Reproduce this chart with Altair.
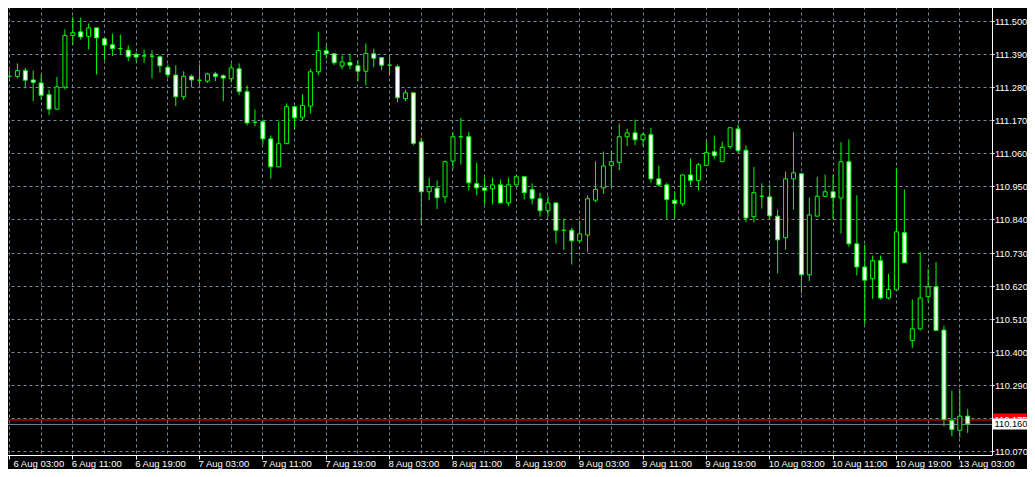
import altair as alt
import pandas as pd

# ---- data (H1 candles) ----
open_ = [111.316, 111.316, 111.335, 111.304, 111.294, 111.255, 111.207, 111.280, 111.452, 111.464,
         111.449, 111.477, 111.441, 111.421, 111.408, 111.403, 111.389, 111.384, 111.383, 111.381,
         111.346, 111.320, 111.248, 111.316, 111.303, 111.300, 111.324, 111.318, 111.308, 111.341,
         111.265, 111.163, 111.165, 111.108, 111.015, 111.092, 111.215, 111.180, 111.217, 111.331,
         111.401, 111.391, 111.350, 111.362, 111.351, 111.333, 111.391, 111.378, 111.353, 111.348,
         111.242, 111.261, 111.098, 110.932, 110.944, 110.915, 111.034, 111.115, 111.115, 110.959,
         110.945, 110.942, 110.955, 110.895, 110.955, 110.982, 110.939, 110.909, 110.869, 110.895,
         110.804, 110.804, 110.769, 110.788, 110.904, 110.945, 111.020, 111.030, 111.115, 111.128,
         111.105, 111.122, 110.975, 110.955, 110.904, 110.892, 110.988, 110.970, 111.020, 111.065,
         111.032, 111.082, 111.141, 111.070, 110.849, 110.917, 110.915, 110.851, 110.779, 110.975,
         110.992, 110.656, 110.851, 110.917, 110.932, 110.911, 111.032, 110.759, 110.682, 110.643,
         110.703, 110.579, 110.606, 110.796, 110.437, 110.476, 110.583, 110.616, 110.472, 110.172,
         110.139, 110.186]
high = [111.336, 111.359, 111.344, 111.335, 111.322, 111.272, 111.314, 111.472, 111.514, 111.511,
        111.492, 111.478, 111.441, 111.458, 111.455, 111.419, 111.396, 111.405, 111.402, 111.385,
        111.355, 111.353, 111.333, 111.322, 111.355, 111.328, 111.331, 111.322, 111.358, 111.359,
        111.286, 111.206, 111.172, 111.119, 111.166, 111.226, 111.216, 111.256, 111.341, 111.465,
        111.419, 111.392, 111.385, 111.391, 111.370, 111.425, 111.408, 111.379, 111.385, 111.355,
        111.272, 111.262, 111.112, 110.979, 110.970, 111.036, 111.131, 111.178, 111.131, 111.028,
        110.979, 110.979, 110.973, 110.979, 110.989, 110.983, 110.960, 110.929, 110.917, 110.896,
        110.843, 110.812, 110.836, 110.920, 111.033, 111.066, 111.066, 111.159, 111.142, 111.172,
        111.130, 111.145, 111.019, 110.962, 110.934, 110.989, 111.042, 111.028, 111.100, 111.119,
        111.099, 111.146, 111.156, 111.086, 111.015, 110.960, 110.956, 110.873, 110.999, 111.130,
        110.995, 110.913, 110.982, 110.989, 110.989, 111.097, 111.106, 110.920, 110.757, 110.720,
        110.720, 110.659, 111.012, 110.940, 110.574, 110.732, 110.676, 110.699, 110.487, 110.271,
        110.277, 110.210]
low = [111.300, 111.309, 111.276, 111.233, 111.237, 111.187, 111.206, 111.272, 111.422, 111.438,
       111.405, 111.322, 111.370, 111.383, 111.389, 111.366, 111.366, 111.361, 111.309, 111.328,
       111.311, 111.217, 111.237, 111.281, 111.289, 111.294, 111.300, 111.233, 111.296, 111.253,
       111.153, 111.150, 111.089, 110.976, 111.014, 111.091, 111.139, 111.170, 111.192, 111.319,
       111.374, 111.353, 111.339, 111.339, 111.300, 111.286, 111.346, 111.336, 111.319, 111.230,
       111.233, 111.087, 110.821, 110.904, 110.875, 110.895, 111.008, 111.023, 110.937, 110.920,
       110.890, 110.890, 110.894, 110.884, 110.953, 110.906, 110.890, 110.849, 110.849, 110.760,
       110.738, 110.690, 110.764, 110.731, 110.897, 110.926, 110.949, 111.004, 111.084, 111.087,
       111.084, 110.962, 110.949, 110.842, 110.845, 110.884, 110.954, 110.937, 111.017, 111.042,
       111.031, 111.075, 111.062, 110.831, 110.831, 110.876, 110.840, 110.661, 110.740, 110.873,
       110.594, 110.635, 110.850, 110.916, 110.840, 110.793, 110.749, 110.654, 110.491, 110.576,
       110.574, 110.574, 110.605, 110.695, 110.413, 110.471, 110.565, 110.470, 110.152, 110.119,
       110.114, 110.130]
close = [111.316, 111.335, 111.303, 111.296, 111.253, 111.207, 111.281, 111.452, 111.461, 111.447,
         111.477, 111.444, 111.420, 111.408, 111.408, 111.381, 111.380, 111.384, 111.383, 111.351,
         111.321, 111.248, 111.316, 111.304, 111.303, 111.324, 111.316, 111.310, 111.344, 111.265,
         111.161, 111.163, 111.108, 111.015, 111.092, 111.215, 111.178, 111.219, 111.331, 111.402,
         111.391, 111.361, 111.364, 111.353, 111.333, 111.392, 111.376, 111.353, 111.353, 111.245,
         111.261, 111.093, 110.932, 110.949, 110.912, 111.032, 111.115, 111.115, 110.962, 110.945,
         110.937, 110.955, 110.895, 110.955, 110.982, 110.929, 110.909, 110.869, 110.895, 110.804,
         110.804, 110.769, 110.792, 110.909, 110.940, 111.018, 111.032, 111.115, 111.128, 111.105,
         111.122, 110.975, 110.955, 110.906, 110.893, 110.988, 110.970, 111.022, 111.062, 111.052,
         111.080, 111.145, 111.069, 110.845, 110.929, 110.917, 110.852, 110.772, 110.975, 110.995,
         110.656, 110.855, 110.917, 110.932, 110.912, 111.032, 110.759, 110.682, 110.638, 110.703,
         110.579, 110.607, 110.799, 110.696, 110.476, 110.579, 110.616, 110.471, 110.175, 110.141,
         110.186, 110.160]

x_labels = ["6 Aug 03:00", "6 Aug 11:00", "6 Aug 19:00", "7 Aug 03:00", "7 Aug 11:00",
            "7 Aug 19:00", "8 Aug 03:00", "8 Aug 11:00", "8 Aug 19:00", "9 Aug 03:00",
            "9 Aug 11:00", "9 Aug 19:00", "10 Aug 03:00", "10 Aug 11:00", "10 Aug 19:00",
            "13 Aug 03:00"]
y_ticks = [110.07, 110.18, 110.29, 110.40, 110.51, 110.62, 110.73, 110.84, 110.95,
           111.06, 111.17, 111.28, 111.39, 111.50]
ask_price = [110.175]
bid_price = [110.160]

# ---- styling ----
LIME = "#00FF00"
GRID = "#778899"
FONT = "Liberation Sans"

df = pd.DataFrame({"idx": list(range(len(open_))), "open": open_, "high": high,
                   "low": low, "close": close})
ask_df = pd.DataFrame({"price": ask_price})
bid_df = pd.DataFrame({"price": bid_price})

x_scale = alt.Scale(domain=[-0.5, 123.5], zero=False, nice=False)
y_scale = alt.Scale(domain=[110.0567, 111.5698], zero=False, nice=False)

label_js = "[" + ",".join("'%s'" % s for s in x_labels) + "]"
x_axis = alt.Axis(
    values=list(range(0, 121, 4)),
    labelExpr="datum.value % 8 === 0 ? " + label_js + "[datum.value / 8] : ''",
    grid=True, gridColor=GRID, gridDash=[3, 3], gridWidth=1,
    domainColor="white", domainWidth=1,
    tickColor="white", tickSize=4,
    tickOpacity={"condition": {"test": "datum.value % 8 === 0", "value": 1}, "value": 0},
    labelAlign="left", labelBaseline="top", labelPadding=-0.5,
    labelOffset={"condition": {"test": "datum.value === 0", "value": 4}, "value": -1},
    labelColor="white", labelFont=FONT, labelFontSize=9.5,
    labelOverlap=False, labelFlush=False, title=None)
# the axis label hidden behind the price boxes is left out, as in the reference
y_axis = alt.Axis(
    values=y_ticks, orient="right",
    labelExpr="abs(datum.value - %s) < 0.03 ? '' : format(datum.value, '.3f')" % bid_price[0],
    grid=True, gridColor=GRID, gridDash=[3, 3], gridWidth=1,
    domainColor="white", domainWidth=1,
    tickColor="white", tickSize=2, labelPadding=0.5, labelOffset=0.5,
    labelColor="white", labelFont=FONT, labelFontSize=9.3,
    labelOverlap=False, labelFlush=False, labelBaseline="middle", title=None)

X = alt.X("idx:Q", scale=x_scale, axis=x_axis)


def Y(field):
    return alt.Y(field, scale=y_scale, axis=y_axis)


base = alt.Chart(df)

wicks = base.mark_rule(color=LIME, strokeWidth=1, xOffset=0.5).encode(
    x=X, y=Y("low:Q"), y2="high:Q")

bodies = base.mark_bar(size=4, stroke=LIME, strokeWidth=1, xOffset=0.5).encode(
    x=X, y=Y("open:Q"), y2="close:Q",
    fill=alt.condition("datum.close > datum.open", alt.value("black"), alt.value("white")))

ask_line = alt.Chart(ask_df).mark_rule(color="#FF0000", strokeWidth=1, yOffset=0.5).encode(
    y=Y("price:Q"))
bid_line = alt.Chart(bid_df).mark_rule(color=GRID, strokeWidth=1, yOffset=0.5).encode(
    y=Y("price:Q"))

ask_box = alt.Chart(ask_df).mark_rect(color="#FF0000", yOffset=-6, y2Offset=6).encode(
    x=alt.value(993), x2=alt.value(1035), y=Y("price:Q"), y2="price:Q")
ask_text = alt.Chart(ask_df).mark_text(align="left", baseline="middle", color="white",
                                       font=FONT, fontSize=9.3, dy=0.5).encode(
    x=alt.value(994.5), y=Y("price:Q"), text=alt.Text("price:Q", format=".3f"))
bid_box = alt.Chart(bid_df).mark_rect(color="white", yOffset=-5.5, y2Offset=5.5).encode(
    x=alt.value(993), x2=alt.value(1035), y=Y("price:Q"), y2="price:Q")
bid_text = alt.Chart(bid_df).mark_text(align="left", baseline="middle", color="black",
                                       font=FONT, fontSize=9.3, dy=0.5).encode(
    x=alt.value(994.5), y=Y("price:Q"), text=alt.Text("price:Q", format=".3f"))

chart = alt.layer(
    wicks, ask_line, bid_line, bodies, ask_box, ask_text, bid_box, bid_text
).properties(
    width=992, height=455, background="black",
    padding={"left": -8, "top": -8, "right": 35, "bottom": 14},
    autosize=alt.AutoSizeParams(type="none"),
).configure_view(stroke=None)

chart.save("out.html", embed_options={"renderer": "svg", "actions": False})
